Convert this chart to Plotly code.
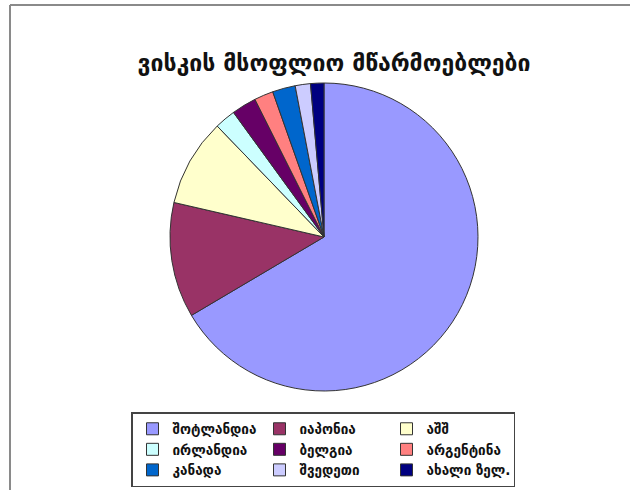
import plotly.graph_objects as go

# World whisky producers (share of production, %)
countries = ["შოტლანდია", "იაპონია", "აშშ", "ირლანდია", "ბელგია",
             "არგენტინა", "კანადა", "შვედეთი", "ახალი ზელ."]
shares = [66.5, 12.1, 9.2, 2.2, 2.6, 2.0, 2.4, 1.6, 1.4]
colors = ["#9999FF", "#993366", "#FFFFCC", "#CCFFFF", "#660066",
          "#FF8080", "#0066CC", "#CCCCFF", "#000080"]

W, H = 630, 490
ML, MR = 65, 65          # side margins narrow the plot area so the legend wraps into 3 columns
PW = W - ML - MR


def px_x(x):
    """pixel column -> paper x"""
    return (x - ML) / PW


def px_y(y):
    """pixel row (from top) -> paper y"""
    return 1 - y / H


cx, cy, r = 324, 237, 154

fig = go.Figure(go.Pie(
    labels=countries,
    values=shares,
    sort=False,
    direction="clockwise",
    rotation=0,
    textinfo="none",
    hoverinfo="label+percent",
    marker=dict(colors=colors, line=dict(color="#333333", width=1)),
    domain=dict(x=[px_x(cx - r), px_x(cx + r)],
                y=[px_y(cy + r), px_y(cy - r)]),
))

fig.update_layout(
    width=W, height=H,
    margin=dict(l=ML, r=MR, t=0, b=0, autoexpand=False),
    paper_bgcolor="white",
    title=dict(text="<b>ვისკის მსოფლიო მწარმოებლები</b>",
               xref="container", yref="container",
               x=334 / W, xanchor="center", y=1 - 63 / H, yanchor="middle",
               font=dict(family="DejaVu Sans", size=23, color="#111111")),
    showlegend=True,
    legend=dict(
        orientation="h",
        x=px_x(131), xanchor="left",
        y=px_y(487), yanchor="bottom",
        entrywidth=82, entrywidthmode="pixels",
        itemwidth=30,
        bordercolor="#444444", borderwidth=1.5,
        bgcolor="white",
        font=dict(family="DejaVu Sans", size=13.5, color="#111111", weight="bold"),
        tracegroupgap=0,
    ),
    shapes=[
        # chart-area frame (top and left edges)
        dict(type="line", xref="paper", yref="paper",
             x0=px_x(10), x1=px_x(640), y0=px_y(5), y1=px_y(5),
             line=dict(color="#8a8a8a", width=2)),
        dict(type="line", xref="paper", yref="paper",
             x0=px_x(10), x1=px_x(10), y0=px_y(5), y1=px_y(500),
             line=dict(color="#8a8a8a", width=2)),
    ],
)

fig.write_html("out.html")
